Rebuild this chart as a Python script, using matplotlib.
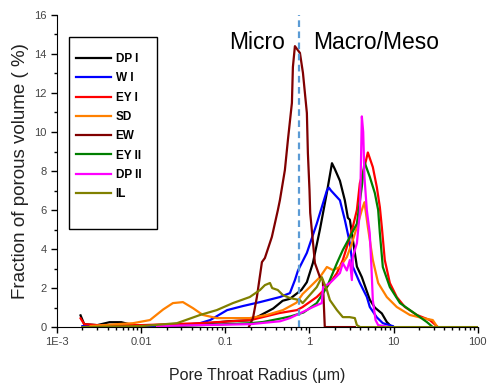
import matplotlib
matplotlib.use("Agg")
import matplotlib.pyplot as plt
from matplotlib.patches import Rectangle
from matplotlib.ticker import FixedLocator, LogLocator, MultipleLocator, NullFormatter

# pore throat radius (um) and fraction of porous volume (%) per sample
dp1_x = [0.0019, 0.0021, 0.003, 0.0042, 0.0058, 0.008, 0.02, 0.05, 0.11, 0.2, 0.26, 0.37, 0.48, 0.585, 0.8, 0.93,
         1.10, 1.33, 1.61, 1.75, 1.85, 2.0, 2.30, 2.63, 2.86, 3.02, 3.27, 3.66, 4.19, 5.21, 5.98, 7.24, 8.30, 9.5]
dp1_y = [0.6, 0.15, 0.1, 0.25, 0.25, 0.1, 0.1, 0.15, 0.3, 0.35, 0.6, 0.95, 1.35, 1.45, 1.9, 2.3,
         3.3, 5.0, 6.9, 7.8, 8.4, 8.1, 7.5, 6.5, 5.6, 5.5, 4.5, 3.1, 2.56, 1.4, 1.0, 0.7, 0.26, 0.0]

wi_x = [0.002, 0.015, 0.03, 0.05, 0.066, 0.105, 0.162, 0.258, 0.445, 0.585, 0.67, 0.73, 0.93, 1.22, 1.61, 1.70,
        1.8, 2.30, 2.63, 3.02, 3.27, 3.97, 4.81, 5.21, 6.31, 7.44, 9.78]
wi_y = [0.05, 0.05, 0.1, 0.2, 0.36, 0.87, 1.08, 1.28, 1.54, 1.74, 2.4, 2.9, 3.8, 5.3, 7.0, 7.15,
        7.0, 6.5, 5.5, 4.3, 3.1, 2.26, 1.54, 1.03, 0.5, 0.2, 0.05]

ey1_x = [0.0019, 0.0021, 0.003, 0.01, 0.05, 0.2, 0.44, 0.71, 0.83, 1.22, 1.61, 2.12, 2.49, 2.78, 3.27, 3.66,
         3.97, 4.5, 4.94, 5.66, 6.31, 6.86, 7.24, 7.85, 9.02, 10.9, 13.6, 18.9, 26.9, 32.6]
ey1_y = [0.45, 0.15, 0.1, 0.1, 0.2, 0.36, 0.72, 0.87, 1.03, 1.54, 2.05, 2.77, 3.44, 4.1, 5.13, 6.0,
         7.38, 8.2, 8.95, 8.2, 7.18, 6.15, 5.13, 3.44, 2.26, 1.54, 1.03, 0.62, 0.36, 0.05]

sd_x = [0.0025, 0.00516, 0.008, 0.0127, 0.0182, 0.0238, 0.0313, 0.0412, 0.05, 0.0543, 0.0793, 0.195, 0.31,
        0.483, 0.7, 0.83, 1.01, 1.33, 1.61, 1.90, 2.30, 2.78, 3.19, 3.66, 4.19, 4.5, 4.94, 5.66, 6.55, 8.3,
        10.9, 15.6, 22.2, 29.2, 32.6]
sd_y = [0.05, 0.15, 0.2, 0.36, 0.9, 1.23, 1.28, 0.97, 0.72, 0.62, 0.46, 0.46, 0.62,
        0.87, 1.25, 1.7, 2.05, 2.56, 3.08, 2.92, 3.08, 3.59, 4.3, 5.13, 6.0, 6.4, 5.13, 3.44, 2.26, 1.54,
        1.03, 0.62, 0.46, 0.36, 0.05]

ew_x = [0.19, 0.213, 0.237, 0.272, 0.295, 0.357, 0.421, 0.445, 0.510, 0.554, 0.618, 0.635, 0.671, 0.770,
        0.836, 0.931, 0.957, 1.0, 1.02, 1.16, 1.33, 1.44, 1.52, 3.46]
ew_y = [0.0, 0.46, 1.54, 3.33, 3.54, 4.62, 6.0, 6.51, 8.05, 9.59, 11.49, 13.33, 14.4, 14.05,
        13.03, 10.97, 8.92, 7.03, 5.85, 3.28, 2.56, 2.41, 0.0, 0.0]

ey2_x = [0.015, 0.05, 0.2, 0.28, 0.48, 0.6, 0.85, 1.22, 1.61, 2.12, 2.49, 3.02, 3.66, 3.9, 4.19, 4.5,
         5.21, 5.98, 6.55, 6.86, 7.44, 9.02, 11.9, 18.9, 24.8, 29.2]
ey2_y = [0.0, 0.1, 0.2, 0.26, 0.46, 0.55, 0.75, 1.23, 2.05, 3.28, 3.95, 4.62, 5.3, 6.2, 7.2, 8.46,
         7.7, 6.87, 6.0, 4.82, 3.08, 2.05, 1.23, 0.62, 0.26, 0.0]

dp2_x = [0.0154, 0.05, 0.2, 0.45, 0.585, 0.83, 1.10, 1.40, 1.45, 1.75, 1.90, 2.30, 2.49, 2.78, 3.02, 3.19,
         3.27, 3.66, 3.97, 4.05, 4.19, 4.35, 4.5, 4.8, 5.2, 5.45, 5.66, 6.1, 6.55, 9.0]
dp2_y = [0.05, 0.1, 0.15, 0.3, 0.46, 0.77, 1.03, 1.23, 2.05, 2.26, 2.41, 2.77, 3.28, 2.9, 3.44, 2.41,
         3.59, 4.3, 5.9, 7.5, 10.8, 10.0, 7.7, 6.0, 4.82, 3.08, 1.38, 0.36, 0.1, 0.0]

il_x = [0.002, 0.01, 0.0266, 0.05, 0.079, 0.123, 0.195, 0.258, 0.295, 0.339, 0.36, 0.42, 0.483, 0.585,
        0.769, 0.83, 1.22, 1.40, 1.61, 1.75, 2.12, 2.49, 3.0, 3.46, 3.66, 4.0, 100]
il_y = [0.0, 0.05, 0.2, 0.62, 0.87, 1.23, 1.54, 1.9, 2.15, 2.26, 2.0, 1.9, 1.64, 1.49,
        1.38, 1.23, 2.05, 2.56, 1.9, 1.38, 0.87, 0.51, 0.51, 0.46, 0.1, 0.0, 0.0]

names = ["DP I", "W I", "EY I", "SD", "EW", "EY II", "DP II", "IL"]
colors = ["#000000", "#0000FF", "#FF0000", "#FF8000", "#800000", "#008000", "#FF00FF", "#808000"]
series = [(dp1_x, dp1_y), (wi_x, wi_y), (ey1_x, ey1_y), (sd_x, sd_y), (ew_x, ew_y),
          (ey2_x, ey2_y), (dp2_x, dp2_y), (il_x, il_y)]

xticks = [0.001, 0.01, 0.1, 1, 10, 100]
xticklabels = ["1E-3", "0.01", "0.1", "1", "10", "100"]
boundary = 0.75  # micro / macro-meso split

plt.rcParams['font.family'] = ['Liberation Sans', 'DejaVu Sans']

fig = plt.figure(figsize=(4.88, 3.83), dpi=100)
ax = fig.add_axes([0.117, 0.146, 0.862, 0.815])

for (xs, ys), name, col in zip(series, names, colors):
    ax.plot(xs, ys, color=col, lw=1.6, label=name)

ax.axvline(boundary, color="#5B9BD5", lw=1.6, ls=(0, (3, 2)))

ax.set_xscale("log")
ax.set_xlim(0.001, 100)
ax.set_ylim(0, 16)
ax.xaxis.set_major_locator(FixedLocator(xticks))
ax.set_xticklabels(xticklabels)
ax.xaxis.set_minor_locator(LogLocator(base=10, subs=range(2, 10), numticks=20))
ax.xaxis.set_minor_formatter(NullFormatter())
ax.yaxis.set_major_locator(MultipleLocator(2))
ax.yaxis.set_minor_locator(MultipleLocator(1))

for side in ["top", "right"]:
    ax.spines[side].set_visible(False)
ax.tick_params(which="major", length=4, width=1, labelsize=8, labelcolor="#444444")
ax.tick_params(which="minor", length=2.5, width=1)

ax.set_xlabel("Pore Throat Radius (\u03bcm)", fontsize=11.5, color="#222222")
ax.xaxis.set_label_coords(0.475, -0.13)
ax.set_ylabel("Fraction of porous volume ( %)", fontsize=13.5, labelpad=4, color="#222222")

ax.text(0.51, 14.6, "Micro", fontsize=16.5, ha="right", va="center")
ax.text(1.10, 14.6, "Macro/Meso", fontsize=16.5, ha="left", va="center")

# legend box drawn separately (it has extra room below the entries)
ax.add_patch(Rectangle((0.0285, 0.314), 0.209, 0.615, transform=ax.transAxes,
                       fill=True, facecolor="white", edgecolor="black", lw=1.0, zorder=4))
leg = ax.legend(loc="upper left", bbox_to_anchor=(0.045, 0.878), frameon=False,
                handlelength=3.0, handletextpad=0.35, labelspacing=0.62,
                borderpad=0.0, borderaxespad=0.0, prop={"weight": "bold", "size": 8.5})
leg.set_zorder(5)

fig.savefig("out.png", dpi=100)
